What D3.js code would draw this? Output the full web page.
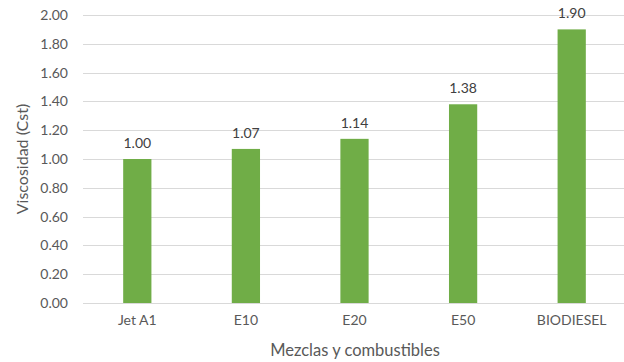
<!DOCTYPE html>
<html>
<head>
<meta charset="utf-8">
<script src="https://cdn.jsdelivr.net/npm/d3@7"></script>
<style>
  html, body { margin: 0; padding: 0; background: #fff; }
  svg { display: block; font-family: Lato, "Open Sans", sans-serif; }
</style>
</head>
<body>
<svg id="chart" width="624" height="362"></svg>
<script>
// Viscosity of each fuel / blend
const categories = ["Jet A1", "E10", "E20", "E50", "BIODIESEL"];
const viscosity = [1.00, 1.07, 1.14, 1.38, 1.90];
const yTicks = [0, 0.2, 0.4, 0.6, 0.8, 1.0, 1.2, 1.4, 1.6, 1.8, 2.0];

const svg = d3.select("#chart");
const margin = { left: 83, right: -2, top: 15, bottom: 59 };
const W = 624, H = 362;

const x = d3.scaleBand()
  .domain(categories)
  .range([margin.left, W - margin.right])
  .paddingInner(0.74)
  .paddingOuter(0.37);

const y = d3.scaleLinear()
  .domain([0, 2])
  .range([H - margin.bottom, margin.top]);

// horizontal gridlines
svg.append("g")
  .selectAll("line")
  .data(yTicks)
  .join("line")
  .attr("x1", margin.left)
  .attr("x2", W - margin.right)
  .attr("y1", d => Math.round(y(d)) + 0.5)
  .attr("y2", d => Math.round(y(d)) + 0.5)
  .attr("stroke", "#d9d9d9")
  .attr("stroke-width", 1);

// y axis labels
const yAxis = d3.axisLeft(y).tickValues(yTicks).tickFormat(d3.format(".2f")).tickSize(0).tickPadding(15);
svg.append("g")
  .attr("transform", `translate(${margin.left},0)`)
  .call(yAxis)
  .call(g => g.select(".domain").remove())
  .call(g => g.selectAll("text").attr("fill", "#595959").attr("font-size", 14).attr("font-family", "Lato, sans-serif"));

// x axis labels
const xAxis = d3.axisBottom(x).tickSize(0).tickPadding(12);
svg.append("g")
  .attr("transform", `translate(0,${H - margin.bottom})`)
  .call(xAxis)
  .call(g => g.select(".domain").remove())
  .call(g => g.selectAll("text").attr("fill", "#595959").attr("font-size", 14).attr("font-family", "Lato, sans-serif"));

// bars
svg.append("g")
  .selectAll("rect")
  .data(viscosity)
  .join("rect")
  .attr("x", (d, i) => x(categories[i]))
  .attr("width", x.bandwidth())
  .attr("y", d => y(d))
  .attr("height", d => y(0) - y(d))
  .attr("fill", "#70ad47");

// value labels
svg.append("g")
  .selectAll("text")
  .data(viscosity)
  .join("text")
  .attr("x", (d, i) => x(categories[i]) + x.bandwidth() / 2)
  .attr("y", d => y(d) - 11)
  .attr("text-anchor", "middle")
  .attr("fill", "#404040")
  .attr("font-size", 14)
  .text(d => d.toFixed(2));

// axis titles
svg.append("text")
  .attr("x", 355)
  .attr("y", 356)
  .attr("text-anchor", "middle")
  .attr("fill", "#595959")
  .attr("font-size", 16.5)
  .text("Mezclas y combustibles");

svg.append("text")
  .attr("transform", `translate(28,${(margin.top + H - margin.bottom) / 2}) rotate(-90)`)
  .attr("text-anchor", "middle")
  .attr("fill", "#595959")
  .attr("font-size", 16)
  .text("Viscosidad (Cst)");
</script>
</body>
</html>
